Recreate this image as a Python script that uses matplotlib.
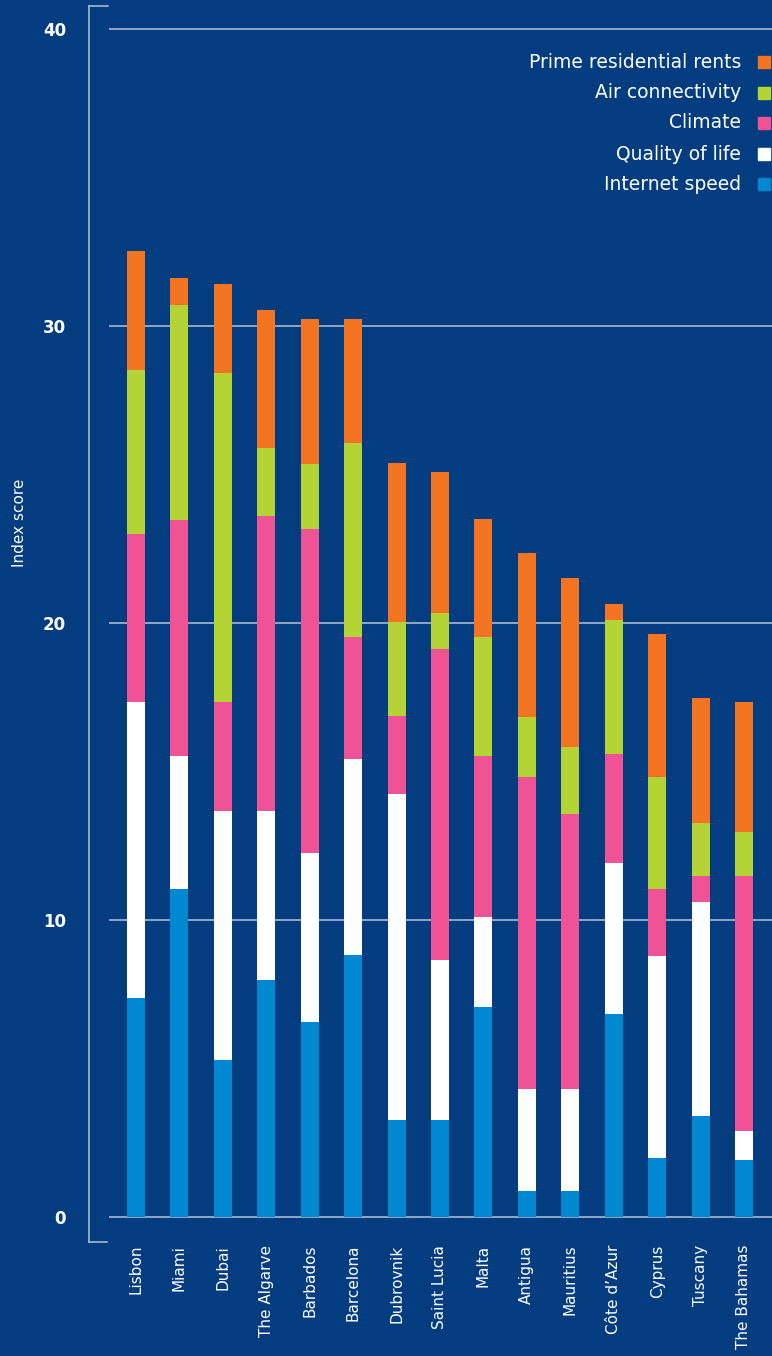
import matplotlib
matplotlib.use("Agg")
import matplotlib.pyplot as plt
from matplotlib.lines import Line2D
from matplotlib.patches import Rectangle
import numpy as np

plt.rcParams['font.family'] = ['DejaVu Sans']

places = ["Lisbon", "Miami", "Dubai", "The Algarve", "Barbados", "Barcelona",
          "Dubrovnik", "Saint Lucia", "Malta", "Antigua", "Mauritius",
          "Côte d’Azur", "Cyprus", "Tuscany", "The Bahamas"]

internet_speed  = [7.38, 11.05, 5.29, 7.99, 6.57, 8.83, 3.27, 3.27, 7.08, 0.89, 0.89, 6.84, 1.99, 3.41, 1.93]
quality_of_life = [9.96, 4.48, 8.38, 5.68, 5.69, 6.60, 10.98, 5.39, 3.03, 3.42, 3.42, 5.08, 6.81, 7.20, 0.97]
climate         = [5.66, 7.94, 3.67, 9.93, 10.91, 4.10, 2.62, 10.48, 5.42, 10.51, 9.27, 3.68, 2.25, 0.88, 8.59]
air_connect     = [5.52, 7.24, 11.08, 2.29, 2.18, 6.55, 3.16, 1.19, 4.00, 2.02, 2.26, 4.50, 3.77, 1.78, 1.48]
prime_rents     = [4.00, 0.91, 2.99, 4.65, 4.89, 4.16, 5.35, 4.75, 3.97, 5.52, 5.68, 0.54, 4.81, 4.21, 4.38]

series_names = ["Internet speed", "Quality of life", "Climate",
                "Air connectivity", "Prime residential rents"]
series_vals = [internet_speed, quality_of_life, climate, air_connect, prime_rents]
colors = ["#0089D1", "#FFFFFF", "#EF5395", "#B4D334", "#F47521"]

yticks = [0, 10, 20, 30, 40]

BG = "#033C7F"
LINE = "#B7C4D8"

W, H = 772, 1356
fig = plt.figure(figsize=(W / 100, H / 100), dpi=100, facecolor=BG)

ax_left, ax_right, ax_top, ax_bot = 109, 772, 6, 1242
ax = fig.add_axes([ax_left / W, 1 - ax_bot / H, (ax_right - ax_left) / W, (ax_bot - ax_top) / H])
ax.set_facecolor(BG)

ppu = (1217.3 - 29) / 40.0
ax.set_ylim(-(ax_bot - 1217.3) / ppu, 40 + (29 - ax_top) / ppu)
spacing = (744 - 136) / 14.0
ax.set_xlim(-(136 - ax_left) / spacing, (ax_right - 136) / spacing)

for y in yticks:
    ax.axhline(y, color=LINE, lw=1.1, zorder=1)

x = np.arange(len(places))
bottom = np.zeros(len(places))
for vals, col in zip(series_vals, colors):
    vals = np.array(vals)
    ax.bar(x, vals, bottom=bottom, width=18 / spacing, color=col, zorder=2, linewidth=0)
    bottom += vals

for s in ax.spines.values():
    s.set_visible(False)

ax.set_yticks(yticks)
ax.set_yticklabels([str(t) for t in yticks], fontsize=12, color="white", fontweight="bold")
ax.tick_params(axis='y', length=0, pad=31)
ax.set_xticks(x)
ax.set_xticklabels(places, rotation=90, fontsize=11, color="white", va="top", ha="center")
ax.tick_params(axis='x', length=0, pad=2)

def fx(px):
    return px / W
def fy(py):
    return 1 - py / H
fig.add_artist(Line2D([fx(89), fx(89)], [fy(6), fy(1242)], color=LINE, lw=1.1))
fig.add_artist(Line2D([fx(88.5), fx(108)], [fy(6), fy(6)], color=LINE, lw=1.1))
fig.add_artist(Line2D([fx(88.5), fx(107)], [fy(1242), fy(1242)], color=LINE, lw=1.1))

fig.text(fx(20), fy(523), "Index score", rotation=90, color="white", fontsize=11,
         ha="center", va="center")

leg_y = [62, 93, 123, 154, 184]
for i, (name, col) in enumerate(zip(series_names[::-1], colors[::-1])):
    yy = leg_y[i]
    fig.text(fx(741), fy(yy), name, color="white", fontsize=13.5, ha="right", va="center")
    fig.add_artist(Rectangle((fx(758), fy(yy + 6)), 12 / W, 12 / H, color=col,
                             transform=fig.transFigure))

fig.savefig("out.png", dpi=100, facecolor=BG)
